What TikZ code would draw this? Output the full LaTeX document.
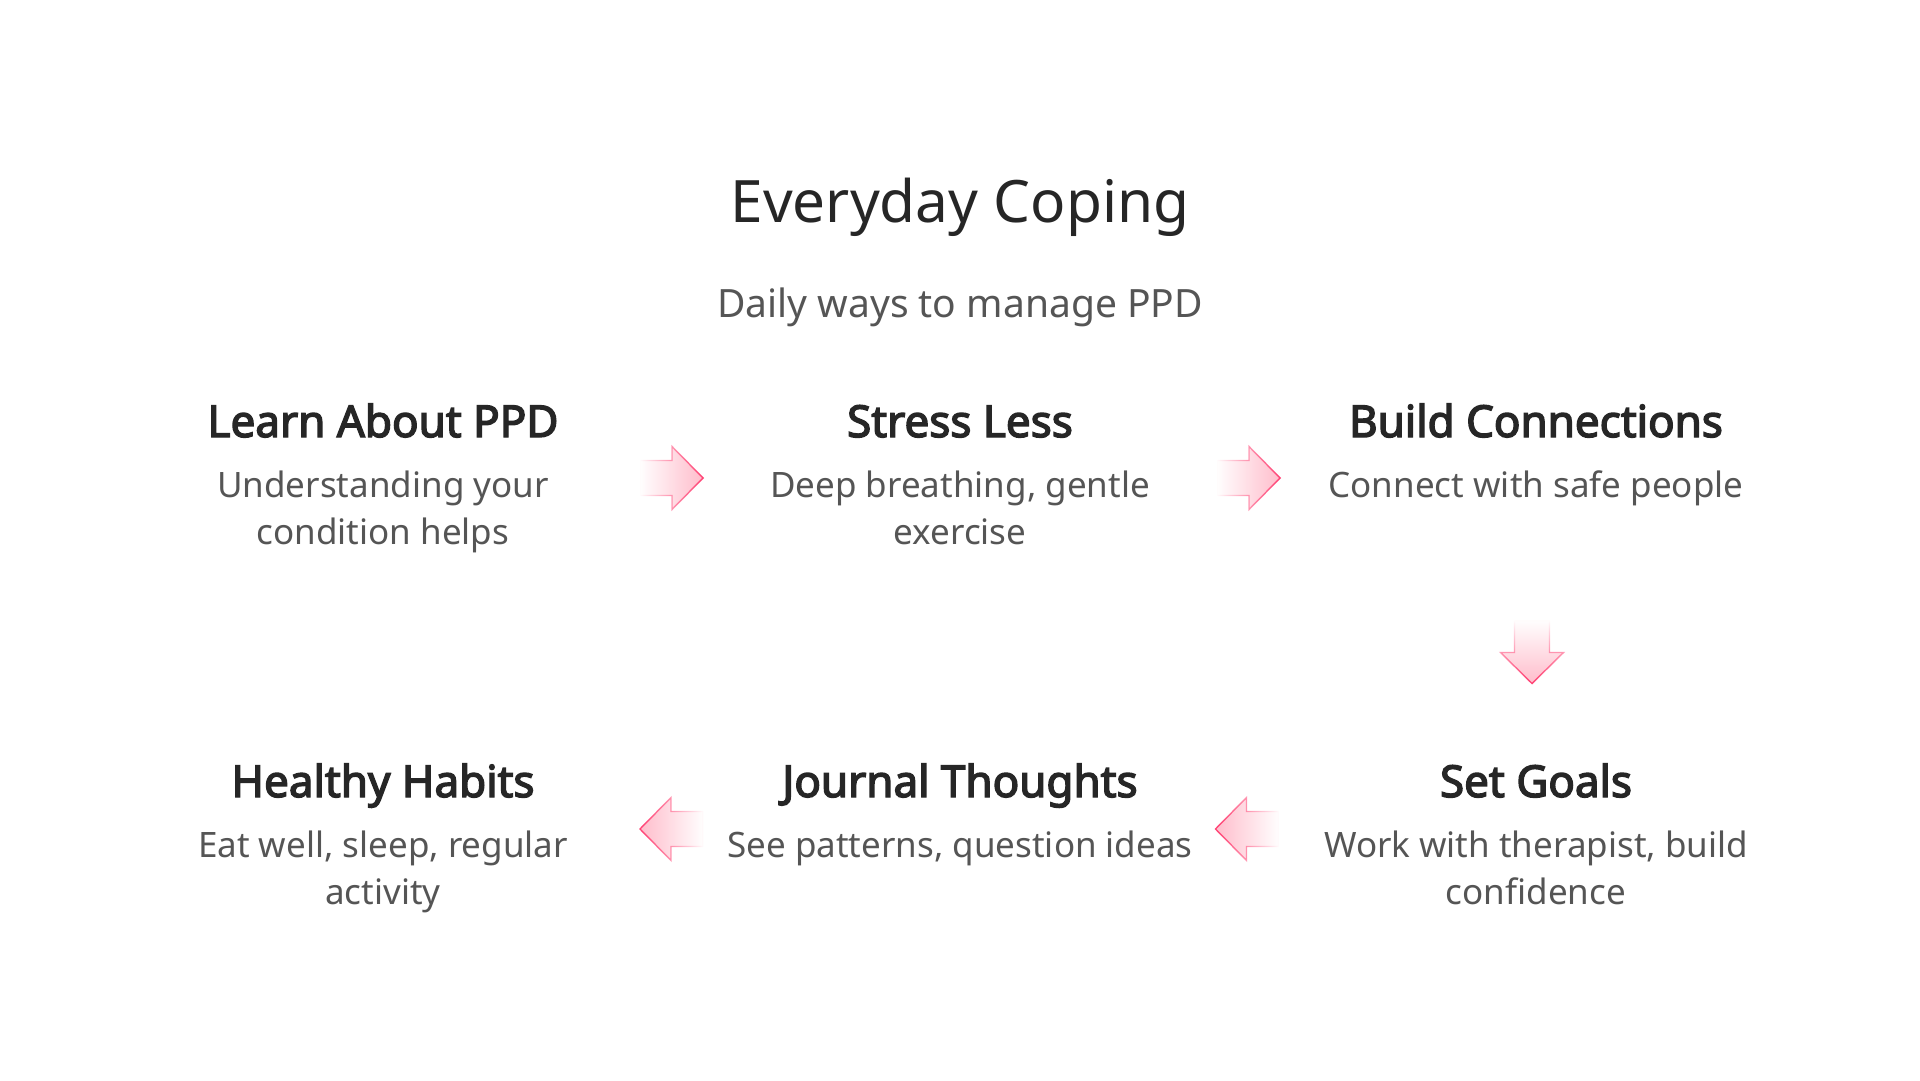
\documentclass[tikz,border=0pt]{standalone}
\usepackage{fontspec}
\setmainfont{Noto Sans}[AutoFakeBold=3.2]
\usetikzlibrary{positioning, fadings}

\definecolor{inkdark}{HTML}{262626}
\definecolor{inkgrey}{HTML}{555555}
\definecolor{arrowfill}{HTML}{FFBCCB}
\definecolor{arrowline}{HTML}{FF3F72}

\tikzset{
  title/.style={font=\fontsize{58.5}{70}\selectfont, text=inkdark, inner sep=0pt, anchor=base},
  subtitle/.style={font=\fontsize{39}{47}\selectfont, text=inkgrey, inner sep=0pt, anchor=base},
  heading/.style={font=\bfseries\fontsize{44}{52}\selectfont, text=inkdark, inner sep=0pt,
    anchor=base, text depth=10pt},
  desc/.style={font=\fontsize{35}{47}\selectfont, text=inkgrey, align=center, inner sep=0pt,
    below=23pt of #1},
  flow/.style={fill=arrowfill, draw=arrowline, line width=1.4pt, line join=miter}
}

\begin{document}
\begin{tikzpicture}[x=1pt, y=-1pt]
  \useasboundingbox[fill=white] (0,0) rectangle (1920,1080);

  % title block
  \node[title] (title) at (960,222) {Everyday Coping};
  \node[subtitle] (sub) at (960,317) {Daily ways to manage PPD};

  % first row
  \node[heading] (learn) at (383,437) {Learn About PPD};
  \node[heading] (stress) at (960,437) {Stress Less};
  \node[heading] (build) at (1536,437) {Build Connections};
  \node[desc=learn] (learnD) {Understanding your\\condition helps};
  \node[desc=stress] (stressD) {Deep breathing, gentle\\exercise};
  \node[desc=build] (buildD) {Connect with safe people};

  % second row
  \node[heading] (habits) at (383,797) {Healthy Habits};
  \node[heading] (journal) at (960,797) {Journal Thoughts};
  \node[heading] (goals) at (1536,797) {Set Goals};
  \node[desc=habits] (habitsD) {Eat well, sleep, regular\\activity};
  \node[desc=journal] (journalD) {See patterns, question ideas};
  \node[desc=goals] (goalsD) {Work with therapist, build\\confidence};

  % arrows between the steps
  \coordinate (a1) at (671.5,478);
  \coordinate (a2) at (1248.5,478);
  \coordinate (a3) at (1532,652);
  \coordinate (a4) at (1247,829);
  \coordinate (a5) at (671.5,829);

  \path[flow, path fading=west] ([shift={(-31.5,-17.5)}]a1) -- ++(32,0) -- ++(0,-14)
    -- ++(31,31.5) -- ++(-31,31.5) -- ++(0,-14) -- ++(-32,0) -- cycle;
  \path[flow, path fading=west] ([shift={(-31.5,-17.5)}]a2) -- ++(32,0) -- ++(0,-14)
    -- ++(31,31.5) -- ++(-31,31.5) -- ++(0,-14) -- ++(-32,0) -- cycle;
  \path[flow, path fading=north] ([shift={(-17.5,-31.5)}]a3) -- ++(0,32) -- ++(-14,0)
    -- ++(31.5,31) -- ++(31.5,-31) -- ++(-14,0) -- ++(0,-32) -- cycle;
  \path[flow, path fading=east] ([shift={(31.5,-17.5)}]a4) -- ++(-32,0) -- ++(0,-14)
    -- ++(-31,31.5) -- ++(31,31.5) -- ++(0,-14) -- ++(32,0) -- cycle;
  \path[flow, path fading=east] ([shift={(31.5,-17.5)}]a5) -- ++(-32,0) -- ++(0,-14)
    -- ++(-31,31.5) -- ++(31,31.5) -- ++(0,-14) -- ++(32,0) -- cycle;
\end{tikzpicture}
\end{document}
